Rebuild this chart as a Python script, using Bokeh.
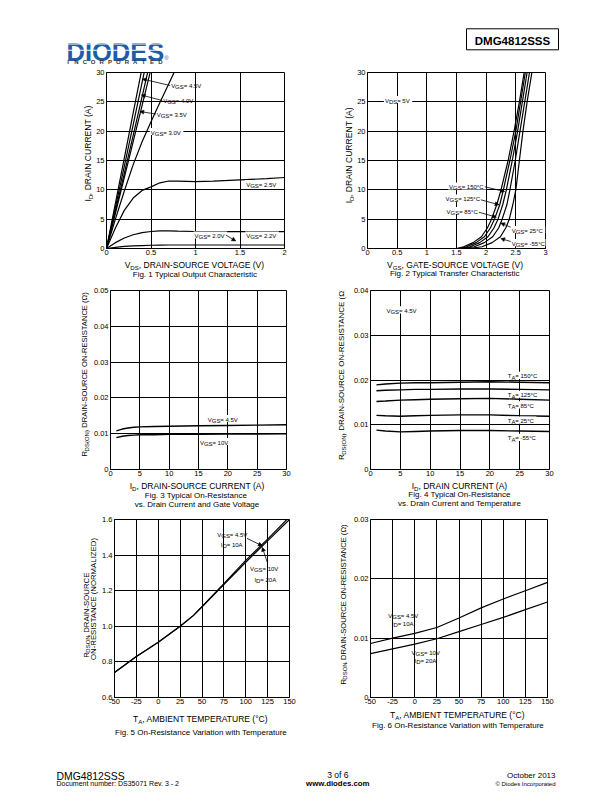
import math
from bokeh.plotting import figure
from bokeh.layouts import column, row
from bokeh.models import Range1d, FixedTicker, Label, Arrow, NormalHead, BoxAnnotation
from bokeh.embed import file_html
from bokeh.resources import INLINE
from bokeh.core.properties import value

FONT = "Liberation Sans"

# ============================ DATA ============================
# Fig. 1 Typical Output Characteristic (ID [A] vs VDS [V])
f1_vds_steep = [0.0, 0.1, 0.2, 0.3, 0.4, 0.5]
f1_id_10v = [0.0, 7.7, 15.4, 23.1, 30.8, 38.5]
f1_id_45v = [0.0, 7.0, 14.0, 21.1, 28.3, 35.5]
f1_id_40v = [0.0, 6.4, 12.8, 19.3, 25.9, 32.5]
f1_id_35v = [0.0, 6.0, 12.1, 18.2, 24.4, 30.6]
f1_vds_30v = [0.0, 0.1, 0.2, 0.3, 0.4, 0.5, 0.6, 0.7, 0.8]
f1_id_30v = [0.0, 5.0, 9.8, 14.3, 18.2, 21.6, 24.9, 28.1, 31.3]
f1_vds = [0.0, 0.1, 0.2, 0.3, 0.4, 0.5, 0.6, 0.7, 0.8, 1.0, 1.2, 1.5, 1.8, 2.0]
f1_id_25v = [0.0, 3.5, 6.5, 8.6, 9.9, 10.5, 11.2, 11.5, 11.5, 11.4, 11.5, 11.7, 11.9, 12.1]
f1_id_22v = [0.0, 1.0, 1.8, 2.35, 2.7, 2.9, 3.0, 3.0, 2.95, 2.9, 2.88, 2.86, 2.86, 2.86]
f1_id_20v = [0.0, 0.2, 0.35, 0.45, 0.5, 0.55, 0.58, 0.6, 0.6, 0.6, 0.6, 0.6, 0.6, 0.6]
f1_xticks = [0, 0.5, 1, 1.5, 2]
f1_xlabels = ["0", "0.5", "1", "1.5", "2"]
f1_yticks = [0, 5, 10, 15, 20, 25, 30]
f1_ylabels = ["0", "5", "10", "15", "20", "25", "30"]

# Fig. 2 Typical Transfer Characteristic (VGS [V] at given ID [A])
f2_id = [0.0, 0.3, 1.0, 2.0, 3.5, 5.0, 7.5, 10.0, 15.0, 20.0, 25.0, 30.0]
f2_vgs_150 = [1.50, 1.62, 1.78, 1.92, 2.02, 2.09, 2.18, 2.25, 2.37, 2.47, 2.56, 2.64]
f2_vgs_125 = [1.53, 1.67, 1.83, 1.97, 2.07, 2.14, 2.23, 2.29, 2.40, 2.50, 2.58, 2.66]
f2_vgs_85 = [1.56, 1.73, 1.89, 2.03, 2.13, 2.20, 2.28, 2.34, 2.44, 2.53, 2.61, 2.69]
f2_vgs_25 = [1.60, 1.80, 1.97, 2.11, 2.21, 2.27, 2.35, 2.40, 2.49, 2.57, 2.65, 2.73]
f2_vgs_m55 = [1.70, 1.93, 2.10, 2.24, 2.33, 2.39, 2.45, 2.50, 2.56, 2.62, 2.69, 2.77]
f2_xticks = [0, 0.5, 1, 1.5, 2, 2.5, 3]
f2_xlabels = ["0", "0.5", "1", "1.5", "2", "2.5", "3"]
f2_yticks = [0, 5, 10, 15, 20, 25, 30]
f2_ylabels = ["0", "5", "10", "15", "20", "25", "30"]

# Fig. 3 On-resistance vs drain current and gate voltage
f3_id = [1, 2, 3, 4, 5, 7.5, 10, 15, 20, 25, 30]
f3_r_45v = [0.0108, 0.0113, 0.0116, 0.0118, 0.0119, 0.0120, 0.0121, 0.0122, 0.0123, 0.0124, 0.0125]
f3_r_10v = [0.0089, 0.0093, 0.0095, 0.0096, 0.0097, 0.0097, 0.0098, 0.0098, 0.0099, 0.0099, 0.0100]
f3_xticks = [0, 5, 10, 15, 20, 25, 30]
f3_xlabels = ["0", "5", "10", "15", "20", "25", "30"]
f3_yticks = [0, 0.01, 0.02, 0.03, 0.04, 0.05]
f3_ylabels = ["0", "0.01", "0.02", "0.03", "0.04", "0.05"]

# Fig. 4 On-resistance vs drain current and temperature
f4_id = [1, 2.5, 5, 7.5, 10, 15, 20, 25, 30]
f4_r_150 = [0.0189, 0.0191, 0.0193, 0.0194, 0.0194, 0.0195, 0.0196, 0.0195, 0.0194]
f4_r_125 = [0.0176, 0.0177, 0.0178, 0.0179, 0.0179, 0.0180, 0.0180, 0.0179, 0.0178]
f4_r_85 = [0.0152, 0.0153, 0.0155, 0.0156, 0.0157, 0.0158, 0.0159, 0.0157, 0.0155]
f4_r_25 = [0.0121, 0.0120, 0.0119, 0.0120, 0.0121, 0.0122, 0.0122, 0.0120, 0.0119]
f4_r_m55 = [0.0088, 0.0086, 0.0084, 0.0085, 0.0086, 0.0087, 0.0087, 0.0086, 0.0085]
f4_xticks = [0, 5, 10, 15, 20, 25, 30]
f4_xlabels = ["0", "5", "10", "15", "20", "25", "30"]
f4_yticks = [0, 0.01, 0.02, 0.03, 0.04]
f4_ylabels = ["0", "0.01", "0.02", "0.03", "0.04"]

# Fig. 5 Normalized on-resistance vs temperature
f5_t = [-50, -25, 0, 25, 40, 50, 75, 100, 125, 150]
f5_r_45v = [0.74, 0.83, 0.91, 1.00, 1.06, 1.11, 1.24, 1.37, 1.49, 1.615]
f5_r_10v = [0.74, 0.83, 0.91, 1.00, 1.06, 1.11, 1.235, 1.36, 1.48, 1.60]
f5_xticks = [-50, -25, 0, 25, 50, 75, 100, 125, 150]
f5_xlabels = ["-50", "-25", "0", "25", "50", "75", "100", "125", "150"]
f5_yticks = [0.6, 0.8, 1.0, 1.2, 1.4, 1.6]
f5_ylabels = ["0.6", "0.8", "1.0", "1.2", "1.4", "1.6"]

# Fig. 6 On-resistance vs temperature
f6_t = [-50, -25, 0, 25, 50, 75, 100, 125, 150]
f6_r_45v = [0.0091, 0.0100, 0.0108, 0.0118, 0.0134, 0.0151, 0.0166, 0.0180, 0.0194]
f6_r_10v = [0.0074, 0.0082, 0.0090, 0.0099, 0.0111, 0.0123, 0.0135, 0.0148, 0.0161]
f6_xticks = [-50, -25, 0, 25, 50, 75, 100, 125, 150]
f6_xlabels = ["-50", "-25", "0", "25", "50", "75", "100", "125", "150"]
f6_yticks = [0, 0.01, 0.02, 0.03]
f6_ylabels = ["0", "0.01", "0.02", "0.03"]

# ============================ HELPERS ============================
AW = {' ': 278, '!': 278, '"': 355, '#': 556, '$': 556, '%': 889, '&': 667, "'": 191,
      '(': 333, ')': 333, '*': 389, '+': 584, ',': 278, '-': 333, '.': 278, '/': 278,
      ':': 278, ';': 278, '<': 584, '=': 584, '>': 584, '?': 556, '@': 1015,
      'A': 667, 'B': 667, 'C': 722, 'D': 722, 'E': 667, 'F': 611, 'G': 778, 'H': 722,
      'I': 278, 'J': 500, 'K': 667, 'L': 556, 'M': 833, 'N': 722, 'O': 778, 'P': 667,
      'Q': 778, 'R': 722, 'S': 667, 'T': 611, 'U': 722, 'V': 667, 'W': 944, 'X': 667,
      'Y': 667, 'Z': 611, 'a': 556, 'b': 556, 'c': 500, 'd': 556, 'e': 556, 'f': 278,
      'g': 556, 'h': 556, 'i': 222, 'j': 222, 'k': 500, 'l': 222, 'm': 833, 'n': 556,
      'o': 556, 'p': 556, 'q': 556, 'r': 333, 's': 500, 't': 278, 'u': 556, 'v': 500,
      'w': 722, 'x': 500, 'y': 500, 'z': 500, '°': 400, 'Ω': 768}

MINF = 6.0    # the browser never draws text smaller than this
BFIX = 0.19   # Bokeh draws "alphabetic" text this fraction of its size lower


def tw(s, size):
    return sum(AW.get(c, 556) for c in s) / 1000.0 * max(size, MINF)


SUB = 0.72


def layout_pieces(parts, size, align):
    sizes = [max(size * (SUB if s else 1.0), MINF) for t, s in parts]
    widths = [tw(t, fs) for (t, s), fs in zip(parts, sizes)]
    total = sum(widths)
    start = {"center": -total / 2, "left": 0.0, "right": -total}[align]
    out = []
    pos = start
    for (t, s), fs, w in zip(parts, sizes, widths):
        off = 0.36 * size + (0.22 * size if s else 0.0) - BFIX * fs
        out.append((t, fs, pos, off))
        pos += w
    return out, start, total


class Strip:
    """A frame-only figure whose data coordinates are page pixels (for labels)."""

    def __init__(self, x0, y0, x1, y1):
        f = figure(width=int(x1 - x0), height=int(y1 - y0), x_range=Range1d(x0, x1),
                   y_range=Range1d(y1, y0), output_backend="svg", toolbar_location=None,
                   title=None, x_axis_type=None, y_axis_type=None,
                   min_border_left=0, min_border_right=0, min_border_top=0,
                   min_border_bottom=0)
        f.grid.visible = False
        f.outline_line_color = None
        f.background_fill_color = "white"
        f.border_fill_color = "white"
        self.p = f

    def text(self, x, y, t, size, align="left", angle=0.0, bold=False, color="black"):
        self.p.text(x=[x], y=[y], text=[t], angle=angle, text_align=align,
                    text_baseline="alphabetic", text_font=value(FONT),
                    text_font_size=f"{max(size, MINF):.2f}px", text_line_height=1.0,
                    text_font_style="bold" if bold else "normal", text_color=color)

    def ctext(self, x, cy, t, size, align="center", bold=False, color="black"):
        fs = max(size, MINF)
        self.text(x, cy + 0.36 * fs - BFIX * fs, t, fs, align=align, bold=bold, color=color)

    def rich(self, parts, cx, cy, size, align="center", vertical=False):
        pieces, _, _ = layout_pieces(parts, size, align)
        for t, fs, pos, off in pieces:
            if vertical:
                self.text(cx + off, cy - pos, t, fs, angle=math.pi / 2)
            else:
                self.text(cx + pos, cy + off, t, fs)


class Panel:
    def __init__(self, ox, oy, w, h, frame, xr, yr):
        self.l, self.t, self.r, self.b = frame
        self.xr, self.yr = xr, yr
        p = figure(width=int(w), height=int(h), x_range=Range1d(*xr), y_range=Range1d(*yr),
                   output_backend="svg", toolbar_location=None, title=None,
                   min_border_left=int(self.l - ox), min_border_right=int(ox + w - self.r),
                   min_border_top=int(self.t - oy), min_border_bottom=int(oy + h - self.b))
        p.background_fill_color = "white"
        p.border_fill_color = "white"
        p.outline_line_color = "black"
        p.outline_line_width = 1
        self.p = p

    def dx(self, px):
        return self.xr[0] + (px - self.l) / (self.r - self.l) * (self.xr[1] - self.xr[0])

    def dy(self, py):
        return self.yr[0] + (self.b - py) / (self.b - self.t) * (self.yr[1] - self.yr[0])

    def axes(self, xt, xl, yt, yl):
        p = self.p
        p.xaxis.ticker = FixedTicker(ticks=xt)
        p.yaxis.ticker = FixedTicker(ticks=yt)
        p.xaxis.major_label_overrides = dict(zip(xt, xl))
        p.yaxis.major_label_overrides = dict(zip(yt, yl))
        for ax in (p.xaxis, p.yaxis):
            ax.major_tick_out = 0
            ax.major_tick_in = 0
            ax.minor_tick_out = 0
            ax.minor_tick_in = 0
            ax.axis_line_color = "black"
            ax.major_label_text_font = FONT
            ax.major_label_text_font_size = "7.5px"
            ax.major_label_text_color = "black"
        p.xaxis.major_label_standoff = 1
        p.yaxis.major_label_standoff = 2
        for g in (p.xgrid, p.ygrid):
            g.grid_line_color = "black"
            g.grid_line_alpha = 1.0
            g.grid_line_width = 1

    def label(self, px, py, text, size, align="left"):
        self.p.add_layout(Label(x=self.dx(px), y=self.dy(py), text=text,
                                text_align=align, text_baseline="alphabetic",
                                text_font=FONT, text_font_size=f"{max(size, MINF):.2f}px",
                                text_line_height=1.0, text_color="black"))

    def rich(self, parts, cx, cy, size, align="left", bg=False):
        pieces, start, total = layout_pieces(parts, size, align)
        if bg:
            x0 = cx + start - 1.0
            self.p.add_layout(BoxAnnotation(left=self.dx(x0), right=self.dx(x0 + total + 2.0),
                                            top=self.dy(cy - 0.6 * size),
                                            bottom=self.dy(cy + 0.6 * size),
                                            fill_color="white", fill_alpha=1.0,
                                            line_color=None))
        for t, fs, pos, off in pieces:
            self.label(cx + pos, cy + off, t, fs)

    def arrow(self, x0, y0, x1, y1):
        self.p.add_layout(Arrow(end=NormalHead(size=4, line_color="black", fill_color="black",
                                               line_width=0.5),
                                x_start=self.dx(x0), y_start=self.dy(y0),
                                x_end=self.dx(x1), y_end=self.dy(y1),
                                line_color="black", line_width=0.8))

    def line(self, x, y, w=1.2):
        self.p.line(x, y, line_color="black", line_width=w)


CW = 306  # column width


def panel(colx, rowy, xsplit, ysplit, frame, xr, yr):
    """Plot figure to the right of its y-label strip."""
    P = Panel(ysplit, rowy, colx + CW - ysplit, xsplit - rowy, frame, xr, yr)
    YL = Strip(colx, rowy, ysplit, xsplit)
    return P, YL


ANN = 6.0   # annotation font size
AXL = 8.5   # axis label font size
CAP = 8.0   # caption font size

# ---------------------------- row 1 ----------------------------
R1Y, R1S, R1E = 65, 258, 283
P1, Y1 = panel(0, R1Y, R1S, 93, (105, 72, 284, 248), (0, 2), (0, 30))
P2, Y2 = panel(CW, R1Y, R1S, 354, (366, 72, 545, 248), (0, 3), (0, 30))
X1 = Strip(0, R1S, CW, R1E)
X2 = Strip(CW, R1S, 2 * CW, R1E)

P1.axes(f1_xticks, f1_xlabels, f1_yticks, f1_ylabels)
for ys in (f1_id_10v, f1_id_45v, f1_id_40v, f1_id_35v):
    P1.line(f1_vds_steep, ys)
P1.line(f1_vds_30v, f1_id_30v)
P1.line(f1_vds, f1_id_25v)
P1.line(f1_vds, f1_id_22v)
P1.line(f1_vds, f1_id_20v)
P1.rich([("V", 0), ("GS", 1), (" = 4.5V", 0)], 170, 84.5, ANN)
P1.arrow(169, 85, 141, 78.5)
P1.rich([("V", 0), ("GS", 1), (" = 4.0V", 0)], 162, 99.5, ANN)
P1.arrow(161, 100, 140, 94.5)
P1.rich([("V", 0), ("GS", 1), (" = 3.5V", 0)], 155.5, 113, ANN)
P1.arrow(154.5, 113.5, 138.5, 111)
P1.rich([("V", 0), ("GS", 1), (" = 3.0V", 0)], 149.5, 131, ANN, bg=True)
P1.rich([("V", 0), ("GS", 1), (" = 2.5V", 0)], 245.5, 183, ANN, bg=True)
P1.rich([("V", 0), ("GS", 1), (" = 2.2V", 0)], 245.5, 234.5, ANN, bg=True)
P1.rich([("V", 0), ("GS", 1), (" = 2.0V", 0)], 193.5, 234.5, ANN, bg=True)
P1.arrow(225, 234.5, 235, 240.5)
X1.rich([("V", 0), ("DS", 1), (", DRAIN-SOURCE VOLTAGE (V)", 0)], 194.5, 263.4, AXL)
X1.ctext(194.5, 272.6, "Fig. 1 Typical Output Characteristic", CAP)
Y1.rich([("I", 0), ("D", 1), (", DRAIN CURRENT (A)", 0)], 86.2, 158, 8.6, vertical=True)

P2.axes(f2_xticks, f2_xlabels, f2_yticks, f2_ylabels)
for xs in (f2_vgs_150, f2_vgs_125, f2_vgs_85, f2_vgs_25, f2_vgs_m55):
    P2.line(xs, f2_id)
P2.rich([("V", 0), ("DS", 1), (" = 5V", 0)], 383.5, 99, ANN, bg=True)
P2.rich([("V", 0), ("GS", 1), (" = 150°C", 0)], 448, 185.5, ANN, bg=True)
P2.arrow(484, 186.3, 504, 191)
P2.rich([("V", 0), ("GS", 1), (" = 125°C", 0)], 444.5, 197.5, ANN, bg=True)
P2.arrow(480, 199.3, 498.3, 204.3)
P2.rich([("V", 0), ("GS", 1), (" = 85°C", 0)], 445.5, 210, ANN, bg=True)
P2.arrow(478, 211.7, 495.7, 216.7)
P2.rich([("V", 0), ("GS", 1), (" = 25°C", 0)], 511, 229, ANN, bg=True)
P2.arrow(510, 226.7, 500, 222.5)
P2.rich([("V", 0), ("GS", 1), (" = -55°C", 0)], 511, 242.2, ANN, bg=True)
P2.arrow(510, 241.0, 500, 238.0)
X2.rich([("V", 0), ("GS", 1), (", GATE-SOURCE VOLTAGE (V)", 0)], 455.5, 263.4, AXL)
X2.ctext(455.5, 271.6, "Fig. 2  Typical Transfer Characteristic", CAP)
Y2.rich([("I", 0), ("D", 1), (", DRAIN CURRENT (A)", 0)], 347, 160, 8.6, vertical=True)

# ---------------------------- row 2 ----------------------------
R2Y, R2S, R2E = 283, 479, 510
P3, Y3 = panel(0, R2Y, R2S, 90, (107, 290, 286, 469), (0, 30), (0, 0.05))
P4, Y4 = panel(CW, R2Y, R2S, 350, (369, 289, 549, 469), (0, 30), (0, 0.04))
X3 = Strip(0, R2S, CW, R2E)
X4 = Strip(CW, R2S, 2 * CW, R2E)

P3.axes(f3_xticks, f3_xlabels, f3_yticks, f3_ylabels)
P3.line(f3_id, f3_r_45v, 1.4)
P3.line(f3_id, f3_r_10v, 1.4)
P3.rich([("V", 0), ("GS", 1), (" = 4.5V", 0)], 206, 418, ANN, bg=True)
P3.rich([("V", 0), ("GS", 1), (" = 10V", 0)], 198, 441, ANN, bg=True)
X3.rich([("I", 0), ("D", 1), (", DRAIN-SOURCE CURRENT (A)", 0)], 196.5, 484.4, AXL)
X3.ctext(196.5, 493.6, "Fig. 3  Typical On-Resistance", CAP)
X3.ctext(196.5, 502.5, "vs. Drain Current and Gate Voltage", CAP)
Y3.rich([("R", 0), ("DS(ON)", 1), (", DRAIN-SOURCE ON-RESISTANCE (Ω)", 0)], 83, 381, 7.6,
        vertical=True)

P4.axes(f4_xticks, f4_xlabels, f4_yticks, f4_ylabels)
for ys in (f4_r_150, f4_r_125, f4_r_85, f4_r_25, f4_r_m55):
    P4.line(f4_id, ys, 1.4)
P4.rich([("V", 0), ("GS", 1), (" = 4.5V", 0)], 385, 308.5, ANN, bg=True)
for (txt, yy) in ((" = 150°C", 374.3), (" = 125°C", 393.3), (" = 85°C", 404),
                  (" = 25°C", 419.3), (" = -55°C", 436.7)):
    P4.rich([("T", 0), ("A", 1), (txt, 0)], 507, yy, ANN, bg=True)
X4.rich([("I", 0), ("D", 1), (", DRAIN CURRENT (A)", 0)], 459, 483.8, AXL)
X4.ctext(459, 493.0, "Fig. 4 Typical On-Resistance", CAP)
X4.ctext(459, 501.5, "vs. Drain Current and Temperature", CAP)
Y4.rich([("R", 0), ("DS(ON)", 1), (",  DRAIN-SOURCE ON-RESISTANCE (Ω)", 0)], 339.5, 380, 8.0,
        vertical=True)

# ---------------------------- row 3 ----------------------------
R3Y, R3S, R3E = 510, 708, 740
P5, Y5 = panel(0, R3Y, R3S, 99, (112, 519, 289, 698), (-50, 150), (0.6, 1.6))
P6, Y6 = panel(CW, R3Y, R3S, 350, (368, 517, 547, 697), (-50, 150), (0, 0.03))
X5 = Strip(0, R3S, CW, R3E)
X6 = Strip(CW, R3S, 2 * CW, R3E)

P5.axes(f5_xticks, f5_xlabels, f5_yticks, f5_ylabels)
P5.line(f5_t, f5_r_45v, 1.2)
P5.line(f5_t, f5_r_10v, 1.2)
P5.rich([("V", 0), ("GS", 1), (" = 4.5V", 0)], 216, 533.5, ANN)
P5.rich([("I", 0), ("D", 1), (" = 10A", 0)], 219.5, 543.5, ANN)
P5.arrow(246, 538, 261.5, 545.5)
P5.rich([("V", 0), ("GS", 1), (" = 10V", 0)], 249, 567.5, ANN)
P5.rich([("I", 0), ("D", 1), (" = 20A", 0)], 253.5, 578.5, ANN)
P5.arrow(266.5, 562, 261.5, 547)
X5.rich([("T", 0), ("A", 1), (", AMBIENT TEMPERATURE (°C)", 0)], 200.5, 717.5, AXL)
X5.ctext(200.5, 730.7, "Fig. 5 On-Resistance Variation with Temperature", CAP)
Y5.rich([("R", 0), ("DSON", 1), (", DRAIN-SOURCE", 0)], 84.3, 620, 7.8, vertical=True)
Y5.rich([("ON-RESISTANCE (NORMALIZED)", 0)], 92, 605, 7.8, vertical=True)

P6.axes(f6_xticks, f6_xlabels, f6_yticks, f6_ylabels)
P6.line(f6_t, f6_r_45v, 1.2)
P6.line(f6_t, f6_r_10v, 1.2)
P6.rich([("V", 0), ("GS", 1), (" = 4.5V", 0)], 386, 613.3, ANN)
P6.rich([("I", 0), ("D", 1), (" = 10A", 0)], 389.5, 621.5, ANN)
P6.rich([("V", 0), ("GS", 1), (" = 10V", 0)], 409.5, 650.7, ANN)
P6.rich([("I", 0), ("D", 1), (" = 20A", 0)], 412.5, 658.8, ANN)
X6.rich([("T", 0), ("A", 1), (", AMBIENT TEMPERATURE (°C)", 0)], 457.5, 713.3, AXL)
X6.ctext(457.5, 723.6, "Fig. 6 On-Resistance Variation with Temperature", CAP)
Y6.rich([("R", 0), ("DSON", 1), (", DRAIN-SOURCE ON-RESISTANCE (Ω)", 0)], 341.7, 612, 7.6,
        vertical=True)

# ============================ HEADER / FOOTER ============================
BLUE = "#1c5ca8"
H = Strip(0, 0, 2 * CW, 65)
H.text(66, 56.3 - BFIX * 25.5, "DIODES", 25.5, bold=True, color=BLUE)
H.p.quad(left=[63, 63], right=[166, 166], top=[43.0, 49.2], bottom=[44.1, 50.3],
         fill_color="white", line_color=None)
for i, ch in enumerate("INCORPORATED"):
    H.ctext(67.5 + i * 8.4, 60.8, ch, 6.0, bold=True, color="#333333")
H.ctext(166, 56.0, "®", 6.0, color=BLUE)
H.p.quad(left=[466], right=[558], top=[28.3], bottom=[49.3], fill_color=None,
         line_color="black", line_width=1)
H.ctext(512, 39, "DMG4812SSS", 11.5, bold=True)

F = Strip(0, 740, 2 * CW, 791)
F.ctext(56, 774, "DMG4812SSS", 10.4, align="left")
F.ctext(56, 782.3, "Document number: DS35071 Rev. 3 - 2", 7.0, align="left")
F.ctext(337.3, 773.3, "3 of 6", 8.5)
F.ctext(337.3, 781.7, "www.diodes.com", 7.8, bold=True)
F.ctext(555, 774, "October 2013", 8.0, align="right")
F.ctext(555, 782.3, "© Diodes Incorporated", 6.0, align="right")

page = column(H.p,
              row(Y1.p, P1.p, Y2.p, P2.p), row(X1.p, X2.p),
              row(Y3.p, P3.p, Y4.p, P4.p), row(X3.p, X4.p),
              row(Y5.p, P5.p, Y6.p, P6.p), row(X5.p, X6.p),
              F.p)
open("out.html", "w").write(file_html(page, INLINE))
